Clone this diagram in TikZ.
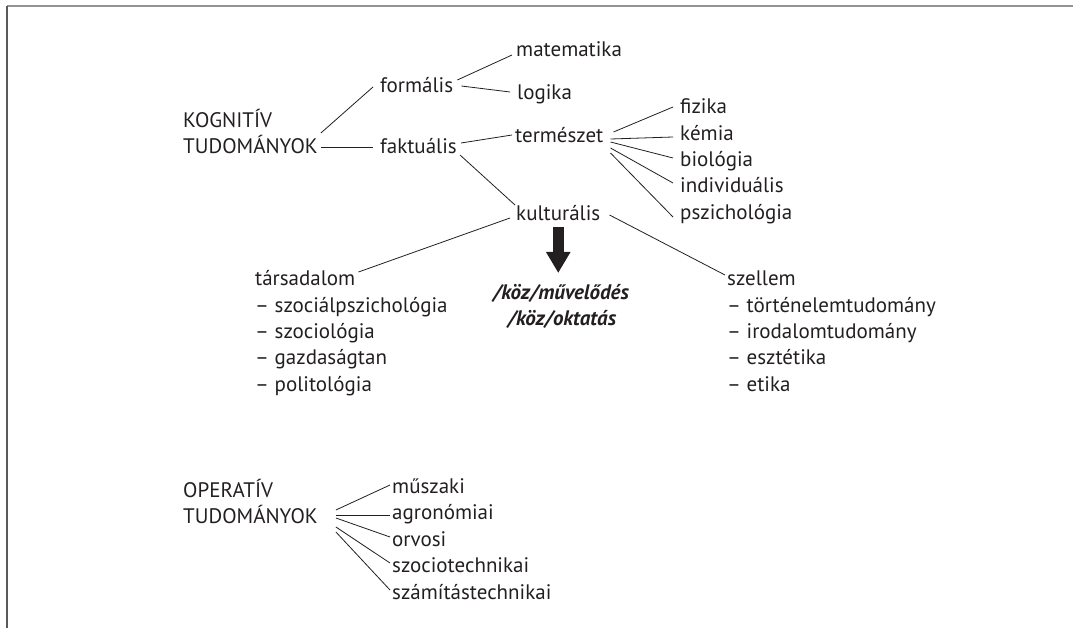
\documentclass[tikz,border=0pt]{standalone}
\usepackage{fontspec}
\setmainfont{PT Sans}
\usetikzlibrary{arrows.meta,calc}
\definecolor{ink}{RGB}{35,31,32}
\begin{document}
\begin{tikzpicture}[x=1pt,y=-1pt,
  lbl/.style={inner sep=0pt, anchor=base west, font=\fontsize{21}{25}\selectfont, text=ink},
  emph/.style={inner sep=0pt, anchor=base, font=\fontsize{21}{25}\selectfont\bfseries\itshape, text=ink},
  con/.style={draw=ink, line width=0.8pt},
  bigarrow/.style={draw=ink, line width=11pt, -{Triangle[width=23pt,length=21pt]}}
]
\useasboundingbox (0,0) rectangle (1073,628);
% frame
\draw[color=gray!85, line width=1.5pt] (7,6) -- (1073,6);
\draw[color=black!65, line width=1.6pt] (7,6) -- (7,628);

% nodes
\node[lbl] (kog1) at (183,128) {KOGNITÍV};
\node[lbl] (kog2) at (183,154) {TUDOMÁNYOK};
\node[lbl] (form) at (380,93) {formális};
\node[lbl] (fakt) at (380,154) {faktuális};
\node[lbl] (mat) at (516,57) {matematika};
\node[lbl] (log) at (517,100) {logika};
\node[lbl] (term) at (515,143) {természet};
\node[lbl] (fiz) at (680,114) {fizika};
\node[lbl] (kem) at (680,141) {kémia};
\node[lbl] (bio) at (680,167) {biológia};
\node[lbl] (ind) at (680,193) {individuális};
\node[lbl] (psz) at (680,220) {pszichológia};
\node[lbl] (kult) at (516,221) {kulturális};
\node[emph] (kozm) at (561,299) {/köz/művelődés};
\node[emph] (kozo) at (562,325) {/köz/oktatás};

\node[lbl] (tars) at (255,286) {társadalom};
\node[lbl] (tars1) at (255,312.3) {– szociálpszichológia};
\node[lbl] (tars2) at (255,338.6) {– szociológia};
\node[lbl] (tars3) at (255,364.9) {– gazdaságtan};
\node[lbl] (tars4) at (255,391.2) {– politológia};

\node[lbl] (szel) at (727,286) {szellem};
\node[lbl] (szel1) at (727,312.3) {– történelemtudomány};
\node[lbl] (szel2) at (727,338.6) {– irodalomtudomány};
\node[lbl] (szel3) at (727,364.9) {– esztétika};
\node[lbl] (szel4) at (727,391.2) {– etika};

\node[lbl] (op1) at (183,497) {OPERATÍV};
\node[lbl] (op2) at (183,523) {TUDOMÁNYOK};
\node[lbl] (musz) at (392,493) {műszaki};
\node[lbl] (agr) at (392,519.5) {agronómiai};
\node[lbl] (orv) at (392,546) {orvosi};
\node[lbl] (szt) at (392,572.5) {szociotechnikai};
\node[lbl] (szam) at (392,599) {számítástechnikai};

% connectors
\draw[con] ([shift={(3,-21)}]kog2.base east) -- ([shift={(-7,-6)}]form.base west);
\draw[con] ([shift={(3,-7)}]kog2.base east) -- ([shift={(-7,-7)}]fakt.base west);
\draw[con] ([shift={(4,-13)}]form.base east) -- ([shift={(-4,-2)}]mat.base west);
\draw[con] ([shift={(8,-7)}]form.base east) -- ([shift={(-7,-8)}]log.base west);
\draw[con] ([shift={(4,-11)}]fakt.base east) -- ([shift={(-3,-8)}]term.base west);
\draw[con] ([shift={(3,1)}]fakt.base east) -- ([shift={(-1,-16)}]kult.base west);

\draw[con] ([shift={(10,-11)}]term.base east) -- ([shift={(-7,-7)}]fiz.base west);
\draw[con] ([shift={(7,-4)}]term.base east) -- ([shift={(-7,-4)}]kem.base west);
\draw[con] ([shift={(7,-1)}]term.base east) -- ([shift={(-7,-9)}]bio.base west);
\draw[con] ([shift={(7,5)}]term.base east) -- ([shift={(-7,-10)}]ind.base west);
\draw[con] ([shift={(7,10)}]term.base east) -- ([shift={(-7,-3)}]psz.base west);

\draw[con] ([shift={(-6,-3)}]kult.base west) -- ([shift={(3,-14)}]tars.base east);
\draw[con] ([shift={(9,-6)}]kult.base east) -- ([shift={(-2,-11)}]szel.base west);

\draw[bigarrow] ($(kult.base)+(0,6)$) -- ($(kult.base |- kozm.base)+(0,-26)$);

\draw[con] ([shift={(18,-13)}]op2.base east) -- ([shift={(-2,-8)}]musz.base west);
\draw[con] ([shift={(18,-8)}]op2.base east) -- ([shift={(-2,-4.5)}]agr.base west);
\draw[con] ([shift={(18,-5)}]op2.base east) -- ([shift={(-2,-9)}]orv.base west);
\draw[con] ([shift={(18,4)}]op2.base east) -- ([shift={(-2,-9.5)}]szt.base west);
\draw[con] ([shift={(18,9)}]op2.base east) -- ([shift={(-2,-9)}]szam.base west);
\end{tikzpicture}
\end{document}
